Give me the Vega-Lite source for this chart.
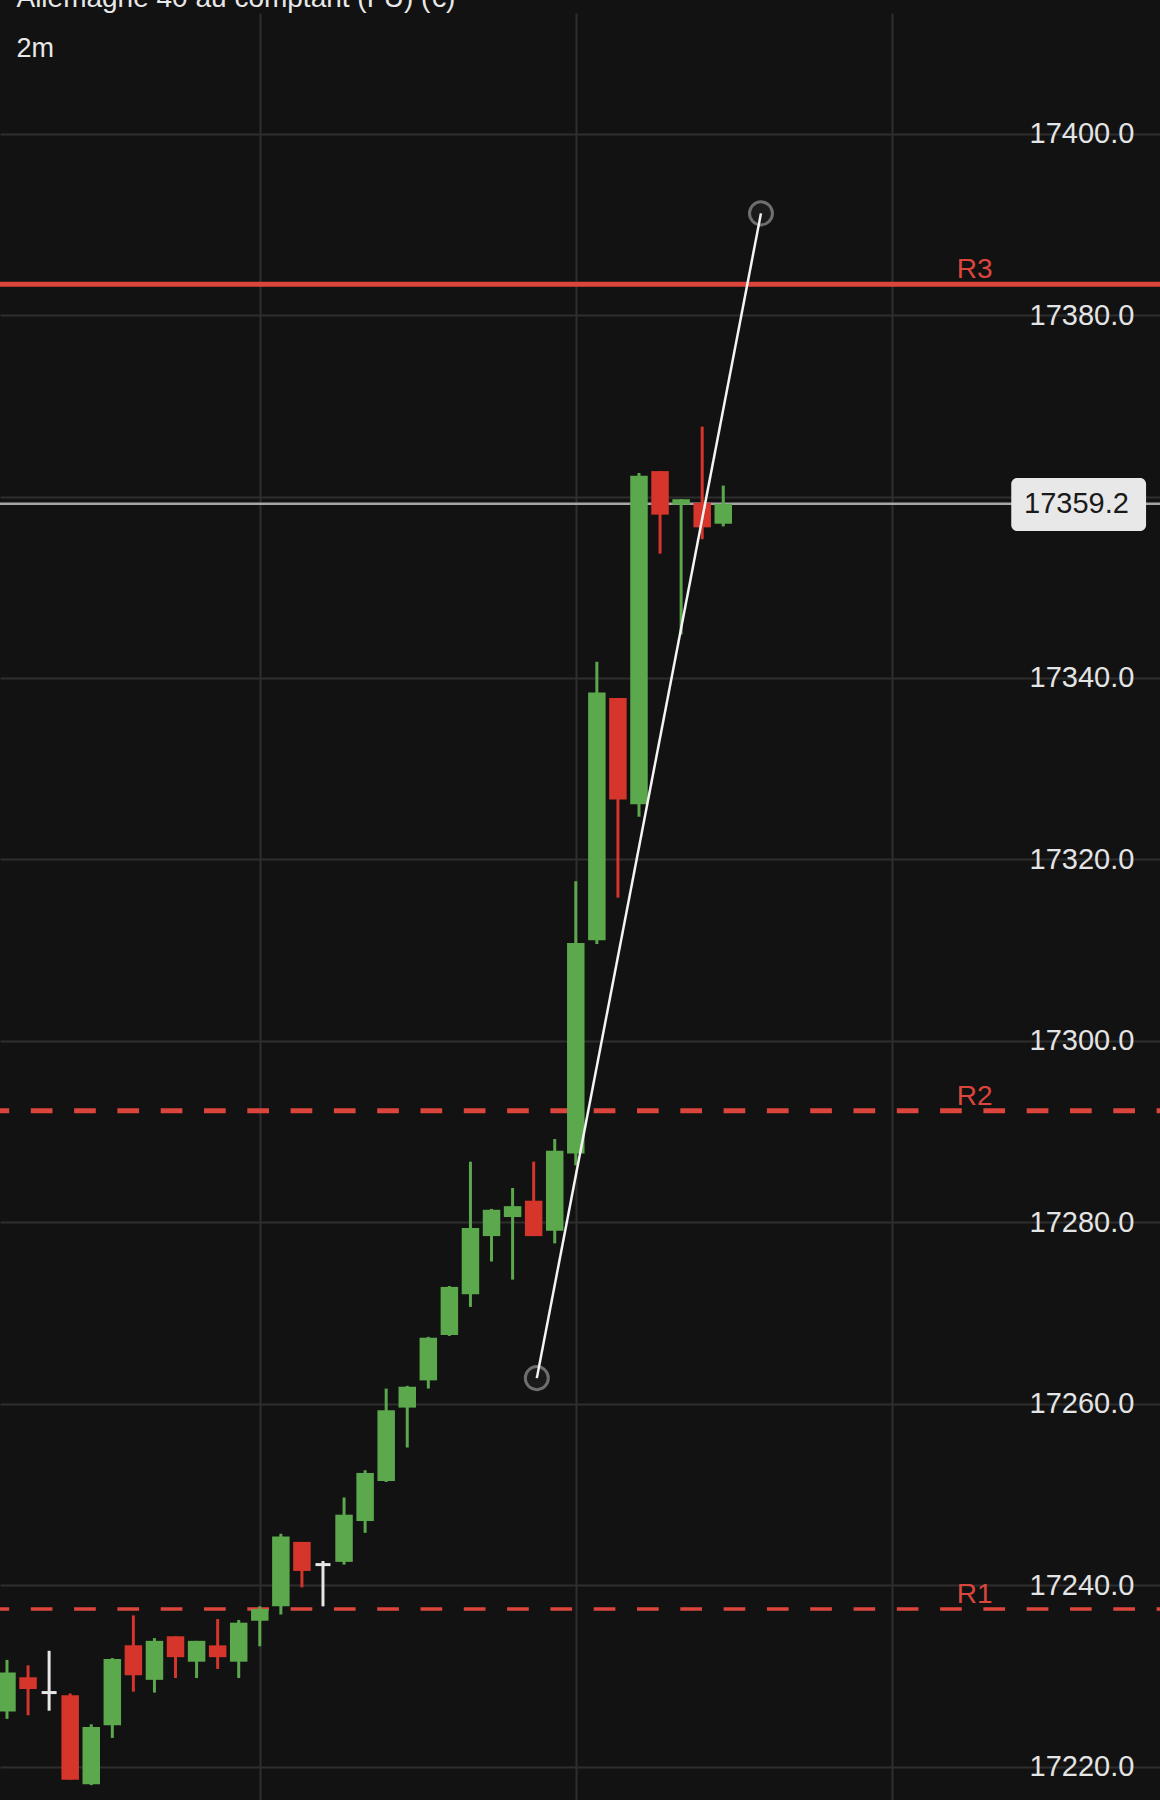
{
  "$schema": "https://vega.github.io/schema/vega-lite/v6.json",
  "width": 1160,
  "height": 1787,
  "autosize": {"type": "none"},
  "padding": {"left": 0, "right": 0, "top": 13, "bottom": 0},
  "background": "#121212",
  "config": {
    "view": {"stroke": null},
    "font": "Liberation Sans",
    "axis": {"title": null, "gridColor": "#2e2e2e", "gridWidth": 2, "domain": false, "ticks": false}
  },
  "datasets": {
    "candles": [
      {"i": 0, "o": 17226.1, "h": 17231.8, "l": 17225.3, "c": 17230.4},
      {"i": 1, "o": 17229.9, "h": 17231.2, "l": 17225.7, "c": 17228.6},
      {"i": 2, "o": 17228.2, "h": 17232.8, "l": 17226.2, "c": 17228.2},
      {"i": 3, "o": 17227.9, "h": 17228.1, "l": 17218.6, "c": 17218.6},
      {"i": 4, "o": 17218.1, "h": 17224.7, "l": 17218.0, "c": 17224.4},
      {"i": 5, "o": 17224.6, "h": 17232.0, "l": 17223.2, "c": 17231.9},
      {"i": 6, "o": 17233.4, "h": 17236.7, "l": 17228.3, "c": 17230.1},
      {"i": 7, "o": 17229.6, "h": 17234.2, "l": 17228.2, "c": 17233.9},
      {"i": 8, "o": 17234.4, "h": 17234.4, "l": 17229.8, "c": 17232.1},
      {"i": 9, "o": 17231.6, "h": 17233.9, "l": 17229.8, "c": 17233.9},
      {"i": 10, "o": 17233.4, "h": 17236.3, "l": 17230.8, "c": 17232.1},
      {"i": 11, "o": 17231.6, "h": 17236.2, "l": 17229.8, "c": 17235.9},
      {"i": 12, "o": 17236.1, "h": 17237.7, "l": 17233.3, "c": 17237.4},
      {"i": 13, "o": 17237.7, "h": 17245.7, "l": 17236.8, "c": 17245.4},
      {"i": 14, "o": 17244.8, "h": 17244.8, "l": 17239.8, "c": 17241.6},
      {"i": 15, "o": 17242.3, "h": 17242.7, "l": 17237.7, "c": 17242.3},
      {"i": 16, "o": 17242.6, "h": 17249.7, "l": 17242.3, "c": 17247.8},
      {"i": 17, "o": 17247.1, "h": 17252.7, "l": 17245.8, "c": 17252.4},
      {"i": 18, "o": 17251.5, "h": 17261.7, "l": 17251.4, "c": 17259.3},
      {"i": 19, "o": 17259.6, "h": 17262.0, "l": 17255.2, "c": 17261.9},
      {"i": 20, "o": 17262.6, "h": 17267.4, "l": 17261.7, "c": 17267.3},
      {"i": 21, "o": 17267.6, "h": 17273.0, "l": 17267.5, "c": 17272.9},
      {"i": 22, "o": 17272.1, "h": 17286.7, "l": 17270.7, "c": 17279.4},
      {"i": 23, "o": 17278.5, "h": 17281.5, "l": 17275.7, "c": 17281.4},
      {"i": 24, "o": 17280.6, "h": 17283.8, "l": 17273.7, "c": 17281.8},
      {"i": 25, "o": 17282.4, "h": 17286.7, "l": 17278.5, "c": 17278.5},
      {"i": 26, "o": 17279.1, "h": 17289.2, "l": 17277.7, "c": 17287.9},
      {"i": 27, "o": 17287.6, "h": 17317.6, "l": 17286.3, "c": 17310.8},
      {"i": 28, "o": 17311.1, "h": 17341.8, "l": 17310.7, "c": 17338.4},
      {"i": 29, "o": 17337.8, "h": 17337.8, "l": 17315.8, "c": 17326.6},
      {"i": 30, "o": 17326.1, "h": 17362.6, "l": 17324.7, "c": 17362.3},
      {"i": 31, "o": 17362.8, "h": 17362.8, "l": 17353.7, "c": 17358.0},
      {"i": 32, "o": 17359.1, "h": 17359.7, "l": 17344.8, "c": 17359.7},
      {"i": 33, "o": 17359.3, "h": 17367.7, "l": 17355.3, "c": 17356.6},
      {"i": 34, "o": 17357.0, "h": 17361.2, "l": 17356.7, "c": 17359.2}
    ],
    "levels": [
      {"name": "R3", "level": 17383.4},
      {"name": "R2", "level": 17292.3},
      {"name": "R1", "level": 17237.4}
    ],
    "last": [{"price": 17359.2, "label": "17359.2"}],
    "trend": [
      {"i": 25.15, "price": 17262.85},
      {"i": 35.79, "price": 17391.2}
    ]
  },
  "layer": [
    {
      "data": {"name": "candles"},
      "mark": {"type": "rule", "strokeWidth": 3, "opacity": 0},
      "encoding": {
        "x": {"field": "i", "type": "quantitative", "scale": {"domain": [-0.0941, 54.494], "nice": false, "zero": false},
          "axis": {"values": [12, 27, 42], "grid": true, "labels": false, "ticks": false, "domain": false, "title": null, "gridColor": "#2e2e2e", "gridWidth": 2}},
        "y": {"field": "l", "type": "quantitative", "scale": {"domain": [17216.36, 17413.28], "nice": false, "zero": false},
          "axis": {"orient": "right", "values": [17220, 17240, 17260, 17280, 17300, 17320, 17340, 17360, 17380, 17400], "format": ".1f", "offset": -131, "ticks": false, "domain": false, "labelPadding": 0, "labelFontSize": 29, "labelColor": "#e4e4e4", "labelFont": "Liberation Sans", "labelAlign": "left", "labelBaseline": "middle", "title": null, "grid": true, "gridColor": "#2e2e2e", "gridWidth": 2, "labelOverlap": false}},
        "y2": {"field": "h"}
      }
    },
    {
      "data": {"name": "levels"},
      "transform": [{"filter": "datum.name == 'R3'"}],
      "mark": {"type": "rule", "color": "#dc453c", "strokeWidth": 5},
      "encoding": {
        "y": {"field": "level", "type": "quantitative", "scale": {"domain": [17216.36, 17413.28], "nice": false, "zero": false}}
      }
    },
    {
      "data": {"name": "levels"},
      "transform": [{"filter": "datum.name == 'R2'"}],
      "mark": {"type": "rule", "color": "#dc453c", "strokeWidth": 5, "strokeDash": [21.7, 21.6], "strokeDashOffset": 18.3},
      "encoding": {
        "y": {"field": "level", "type": "quantitative", "scale": {"domain": [17216.36, 17413.28], "nice": false, "zero": false}}
      }
    },
    {
      "data": {"name": "levels"},
      "transform": [{"filter": "datum.name == 'R1'"}],
      "mark": {"type": "rule", "color": "#dc453c", "strokeWidth": 3.5, "strokeDash": [21.7, 21.6], "strokeDashOffset": 18.3},
      "encoding": {
        "y": {"field": "level", "type": "quantitative", "scale": {"domain": [17216.36, 17413.28], "nice": false, "zero": false}}
      }
    },
    {
      "data": {"name": "last"},
      "mark": {"type": "rule", "color": "#a6a6a6", "strokeWidth": 2.5},
      "encoding": {
        "y": {"field": "price", "type": "quantitative", "scale": {"domain": [17216.36, 17413.28], "nice": false, "zero": false}}
      }
    },
    {
      "data": {"name": "candles"},
      "mark": {"type": "rule", "strokeWidth": 3},
      "encoding": {
        "x": {"field": "i", "type": "quantitative", "scale": {"domain": [-0.0941, 54.494], "nice": false, "zero": false}},
        "y": {"field": "l", "type": "quantitative", "scale": {"domain": [17216.36, 17413.28], "nice": false, "zero": false}},
        "y2": {"field": "h"},
        "color": {
          "condition": [
            {"test": "datum.c > datum.o", "value": "#5ba84d"},
            {"test": "datum.c < datum.o", "value": "#d5352a"}
          ],
          "value": "#e6e6e6"
        }
      }
    },
    {
      "data": {"name": "candles"},
      "transform": [{"filter": "datum.o != datum.c"}],
      "mark": {"type": "bar", "size": 17.5},
      "encoding": {
        "x": {"field": "i", "type": "quantitative", "scale": {"domain": [-0.0941, 54.494], "nice": false, "zero": false}},
        "y": {"field": "o", "type": "quantitative", "scale": {"domain": [17216.36, 17413.28], "nice": false, "zero": false}},
        "y2": {"field": "c"},
        "color": {
          "condition": [
            {"test": "datum.c > datum.o", "value": "#5ba84d"}
          ],
          "value": "#d5352a"
        }
      }
    },
    {
      "data": {"name": "candles"},
      "transform": [{"filter": "datum.o == datum.c"}],
      "mark": {"type": "tick", "orient": "horizontal", "size": 15, "thickness": 3, "color": "#e6e6e6", "opacity": 1},
      "encoding": {
        "x": {"field": "i", "type": "quantitative", "scale": {"domain": [-0.0941, 54.494], "nice": false, "zero": false}},
        "y": {"field": "o", "type": "quantitative", "scale": {"domain": [17216.36, 17413.28], "nice": false, "zero": false}}
      }
    },
    {
      "data": {"name": "levels"},
      "mark": {"type": "text", "align": "left", "baseline": "alphabetic", "dy": -6, "fontSize": 28, "color": "#dc453c", "font": "Liberation Sans"},
      "encoding": {
        "x": {"datum": 45.08, "type": "quantitative", "scale": {"domain": [-0.0941, 54.494], "nice": false, "zero": false}},
        "y": {"field": "level", "type": "quantitative", "scale": {"domain": [17216.36, 17413.28], "nice": false, "zero": false}},
        "text": {"field": "name"}
      }
    },
    {
      "data": {"name": "trend"},
      "mark": {"type": "point", "shape": "circle", "size": 530, "filled": false, "fill": "#1b1b1b", "fillOpacity": 1, "stroke": "#6e6e6e", "strokeWidth": 3, "opacity": 1},
      "encoding": {
        "x": {"field": "i", "type": "quantitative", "scale": {"domain": [-0.0941, 54.494], "nice": false, "zero": false}},
        "y": {"field": "price", "type": "quantitative", "scale": {"domain": [17216.36, 17413.28], "nice": false, "zero": false}}
      }
    },
    {
      "data": {"name": "trend"},
      "mark": {"type": "line", "color": "#f4f4f4", "strokeWidth": 2.5},
      "encoding": {
        "x": {"field": "i", "type": "quantitative", "scale": {"domain": [-0.0941, 54.494], "nice": false, "zero": false}},
        "y": {"field": "price", "type": "quantitative", "scale": {"domain": [17216.36, 17413.28], "nice": false, "zero": false}}
      }
    },
    {
      "data": {"name": "last"},
      "mark": {"type": "rect", "color": "#e8e8e8", "cornerRadius": 6},
      "encoding": {
        "x": {"datum": 47.67, "type": "quantitative", "scale": {"domain": [-0.0941, 54.494], "nice": false, "zero": false}},
        "x2": {"datum": 54.07},
        "y": {"datum": 17362.04, "type": "quantitative", "scale": {"domain": [17216.36, 17413.28], "nice": false, "zero": false}},
        "y2": {"datum": 17356.2}
      }
    },
    {
      "data": {"name": "last"},
      "mark": {"type": "text", "align": "left", "baseline": "middle", "fontSize": 29, "color": "#1a1a1a", "font": "Liberation Sans"},
      "encoding": {
        "x": {"datum": 48.28, "type": "quantitative", "scale": {"domain": [-0.0941, 54.494], "nice": false, "zero": false}},
        "y": {"field": "price", "type": "quantitative", "scale": {"domain": [17216.36, 17413.28], "nice": false, "zero": false}},
        "text": {"field": "label"}
      }
    },
    {
      "data": {"values": [{"text": "Allemagne 40 au comptant (FU) (€)"}]},
      "mark": {"type": "text", "align": "left", "baseline": "alphabetic", "fontSize": 28, "color": "#e8e8e8", "font": "Liberation Sans"},
      "encoding": {
        "x": {"datum": 0.45, "type": "quantitative", "scale": {"domain": [-0.0941, 54.494], "nice": false, "zero": false}},
        "y": {"datum": 17413.94, "type": "quantitative", "scale": {"domain": [17216.36, 17413.28], "nice": false, "zero": false}},
        "text": {"field": "text"}
      }
    },
    {
      "data": {"values": [{"text": "2m"}]},
      "mark": {"type": "text", "align": "left", "baseline": "alphabetic", "fontSize": 27, "color": "#e8e8e8", "font": "Liberation Sans"},
      "encoding": {
        "x": {"datum": 0.45, "type": "quantitative", "scale": {"domain": [-0.0941, 54.494], "nice": false, "zero": false}},
        "y": {"datum": 17408.43, "type": "quantitative", "scale": {"domain": [17216.36, 17413.28], "nice": false, "zero": false}},
        "text": {"field": "text"}
      }
    }
  ]
}
